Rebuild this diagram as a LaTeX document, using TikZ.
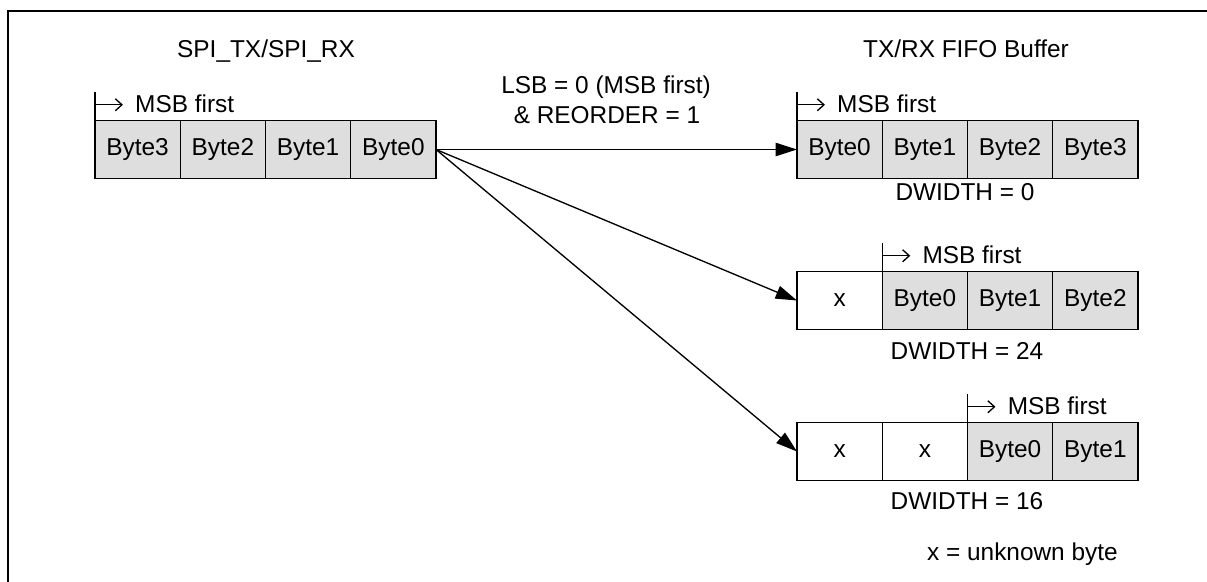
\documentclass[tikz,border=0pt]{standalone}
\usepackage{fontspec}
\setmainfont{Liberation Sans}
\usetikzlibrary{arrows.meta}
\definecolor{cellgray}{HTML}{DEDEDE}
\begin{document}
\begin{tikzpicture}[x=0.75pt,y=-0.75pt,
  font=\fontsize{18.3pt}{22pt}\selectfont,
  cell/.style={draw, line width=1pt, fill=cellgray, minimum width=63.94pt, minimum height=43.1pt, inner sep=0pt, outer sep=0pt},
  xcell/.style={cell, fill=white},
  conn/.style={line width=1pt, -{Triangle[length=16pt,width=10pt]}},
  msbline/.style={line width=1pt},
  msbarrow/.style={line width=1pt, -{Straight Barb[length=5pt,width=9pt]}},
  lbl/.style={inner sep=0pt, anchor=base}
]
\useasboundingbox (0,0) rectangle (1207,582);
\draw[line width=1.5pt] (8,590) -- (8,11) -- (1215,11);

% titles
\node[lbl] (t1) at (266,57) {SPI\_TX/SPI\_RX};
\node[lbl] (t2) at (966,57) {TX/RX FIFO Buffer};

% left register
\node[cell] (L3) at (137.6,149.5) {Byte3};
\node[cell] (L2) at (222.9,149.5) {Byte2};
\node[cell] (L1) at (308.1,149.5) {Byte1};
\node[cell] (L0) at (393.4,149.5) {Byte0};

% FIFO DWIDTH = 0
\node[cell] (A0) at (839.6,149.5) {Byte0};
\node[cell] (A1) at (924.9,149.5) {Byte1};
\node[cell] (A2) at (1010.1,149.5) {Byte2};
\node[cell] (A3) at (1095.4,149.5) {Byte3};

% FIFO DWIDTH = 24
\node[xcell] (B0) at (839.6,300.5) {x};
\node[cell] (B1) at (924.9,300.5) {Byte0};
\node[cell] (B2) at (1010.1,300.5) {Byte1};
\node[cell] (B3) at (1095.4,300.5) {Byte2};

% FIFO DWIDTH = 16
\node[xcell] (C0) at (839.6,451.5) {x};
\node[xcell] (C1) at (924.9,451.5) {x};
\node[cell] (C2) at (1010.1,451.5) {Byte0};
\node[cell] (C3) at (1095.4,451.5) {Byte1};

% MSB first markers
\foreach \n in {L3,A0,B1,C2}{
  \draw[msbline] (\n.north west) -- ++(0,-29);
  \draw[msbarrow] ([yshift=12pt]\n.north west) -- ++(28,0);
  \node[inner sep=0pt, anchor=base west] at ([xshift=30pt,yshift=6pt]\n.north west) {MSB first};
}

% labels
\node[lbl] (l1) at (606,93) {LSB = 0 (MSB first)};
\node[lbl] (l2) at (607,123) {\& REORDER = 1};
\node[lbl] (d0) at (965,200) {DWIDTH = 0};
\node[lbl] (d1) at (967,359) {DWIDTH = 24};
\node[lbl] (d2) at (967,509) {DWIDTH = 16};
\node[inner sep=0pt, anchor=base east] (u) at (1118,560) {x = unknown byte};

% connectors
\draw[conn] (L0.east) -- (A0.west);
\draw[conn] (L0.east) -- (B0.west);
\draw[conn] (L0.east) -- (C0.west);
\end{tikzpicture}
\end{document}
